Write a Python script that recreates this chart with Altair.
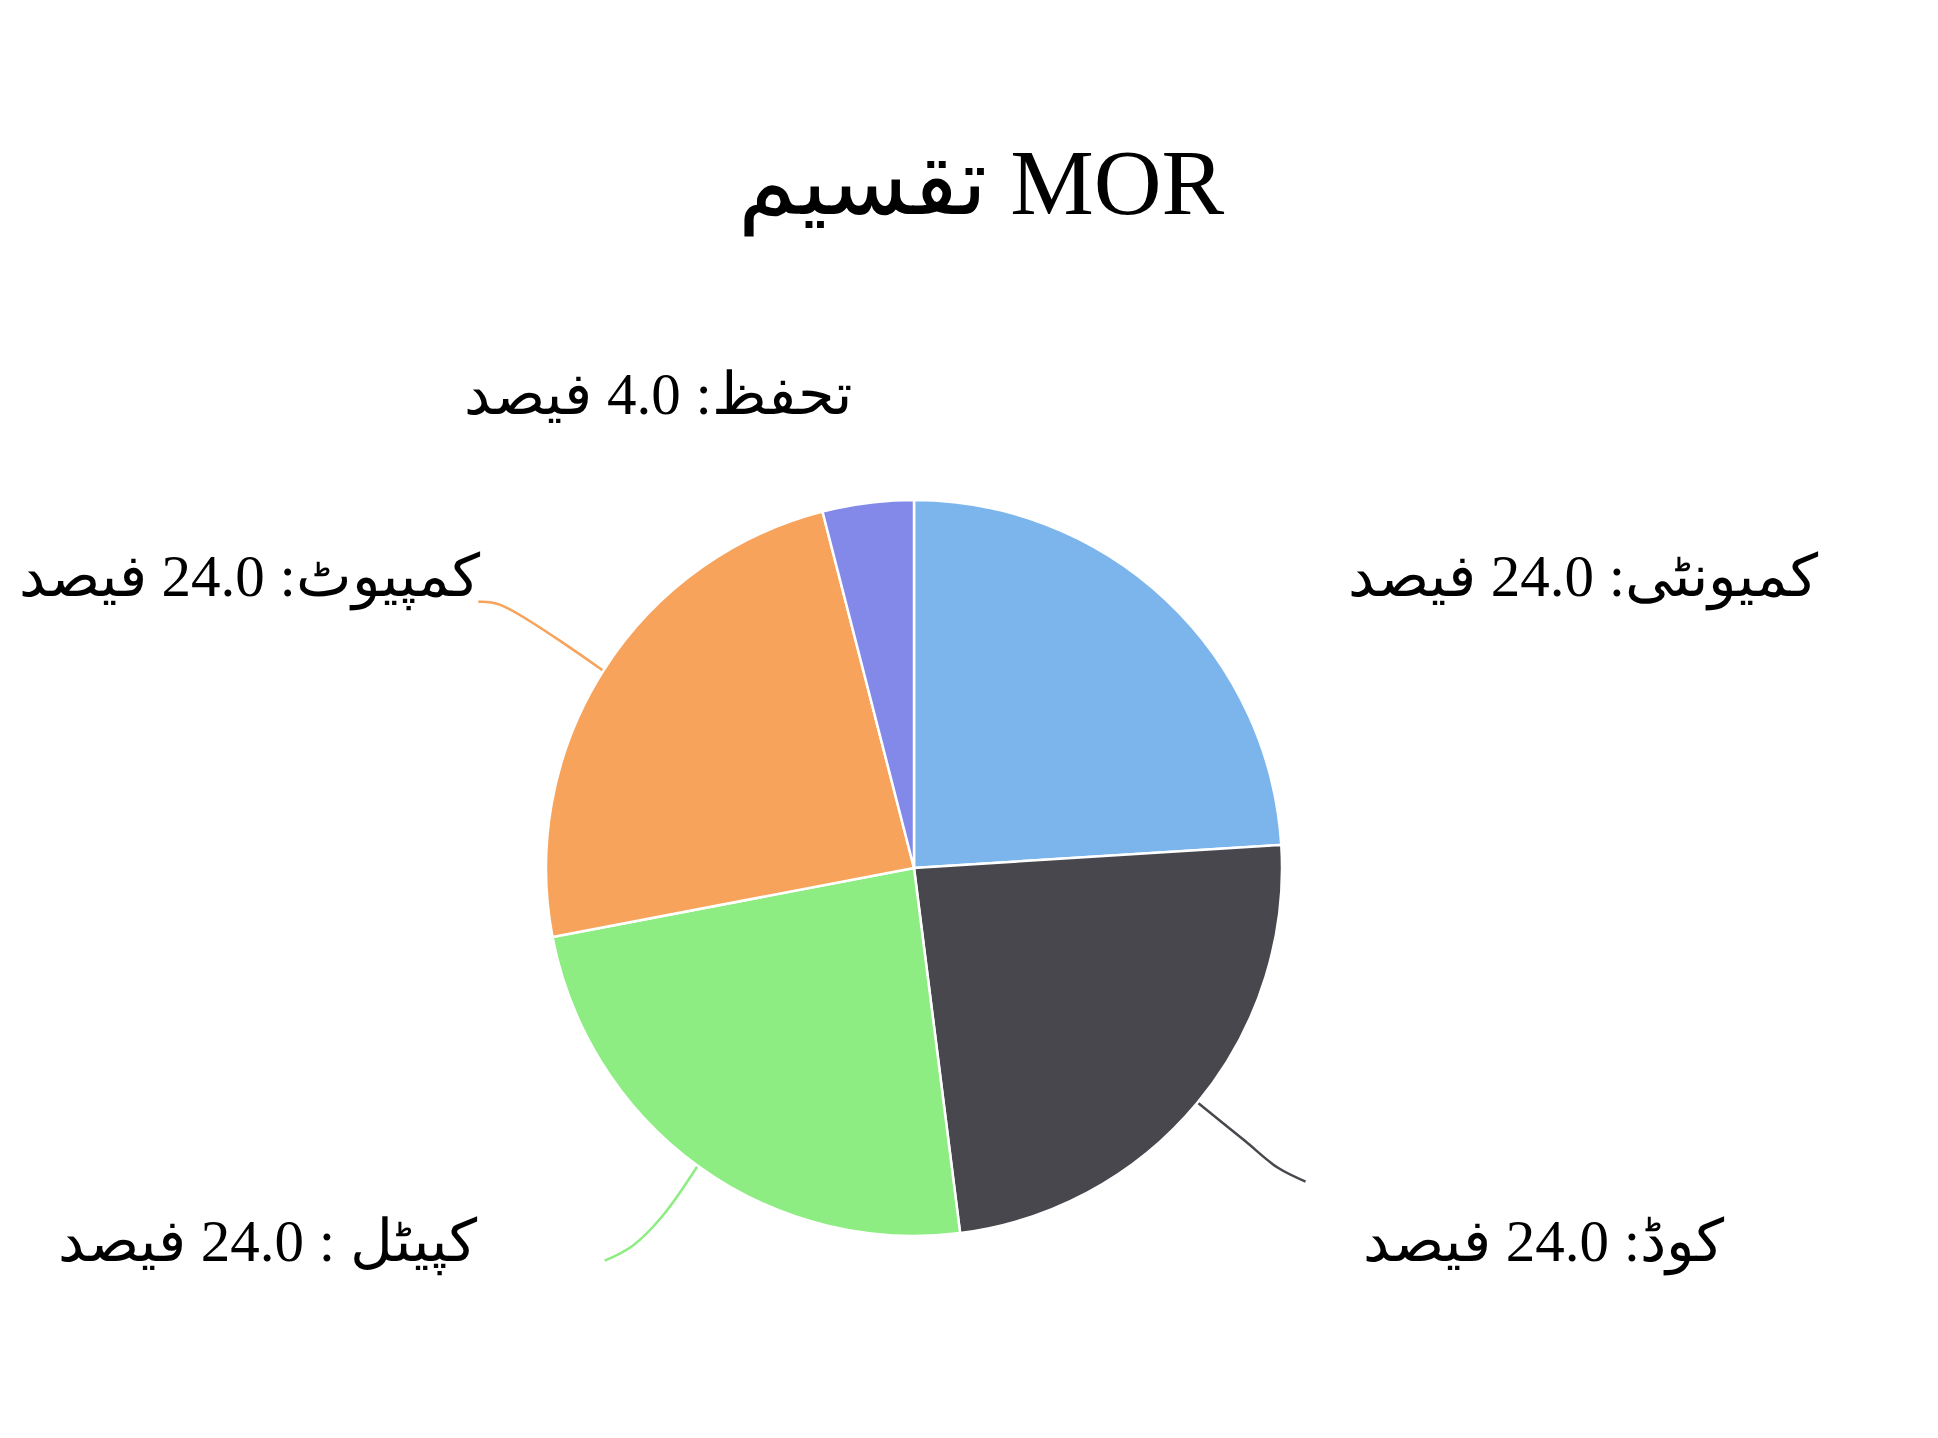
import math
import altair as alt
import pandas as pd

# ---- data ----
categories = ["کمیونٹی", "کوڈ", "کپیٹل", "کمپیوٹ", "تحفظ"]
values = [24.0, 24.0, 24.0, 24.0, 4.0]
separators = [": ", ": ", " : ", ": ", ": "]
unit = "فیصد"
title_text = "تقسیم MOR"

# ---- styles / layout ----
colors = ["#7cb5ec", "#47474d", "#8eed82", "#f7a35c", "#8289e9"]
FONT = "Liberation Serif"
W, H = 1922, 1422
CX, CY, R = 906, 860, 368

# label anchors (x, baseline y, align)
label_layout = [
    (1340, 588, "left"),
    (1355, 1253, "left"),
    (469, 1253, "right"),
    (472, 588, "right"),
    (844, 406, "right"),
]
# connector bends, relative to the slice edge point (None = no connector)
connector_offsets = [
    None,
    [(47, 38), (80, 65), (108, 79)],
    [(-35, 50), (-65, 80), (-93, 95)],
    [(-103, -66), (-125, -69)],
    None,
]

df = pd.DataFrame({"cat": categories, "value": values, "order": list(range(len(categories)))})

color_scale = alt.Scale(domain=categories, range=colors)

pie = alt.Chart(df).mark_arc(outerRadius=R, stroke="white", strokeWidth=2.5).encode(
    theta=alt.Theta("value:Q", stack=True),
    color=alt.Color("cat:N", scale=color_scale, legend=None),
    order=alt.Order("order:Q"),
    x=alt.value(CX),
    y=alt.value(CY),
)

# labels
lab_rows = []
for i, (c, v) in enumerate(zip(categories, values)):
    lx, ly, al = label_layout[i]
    lab_rows.append({"cat": c, "text": f"{c}{separators[i]}{v:.1f} {unit}", "lx": lx, "ly": ly, "al": al})
lab_df = pd.DataFrame(lab_rows)

def label_layer(align):
    return alt.Chart(lab_df[lab_df["al"] == align]).mark_text(
        font=FONT, fontSize=59, align=align, baseline="alphabetic", color="black"
    ).encode(
        x=alt.X("lx:Q", scale=None, axis=None),
        y=alt.Y("ly:Q", scale=None, axis=None),
        text="text:N",
    )

# connectors from slice mid-angle edge
total = sum(values)
con_rows = []
cum = 0.0
for i, (c, v) in enumerate(zip(categories, values)):
    mid = (cum + v / 2) / total * 2 * math.pi
    cum += v
    offs = connector_offsets[i]
    if not offs:
        continue
    sx = CX + R * math.sin(mid)
    sy = CY - R * math.cos(mid)
    con_rows.append({"cat": c, "seq": 0, "px": sx, "py": sy})
    for k, (ox, oy) in enumerate(offs):
        con_rows.append({"cat": c, "seq": k + 1, "px": sx + ox, "py": sy + oy})
con_df = pd.DataFrame(con_rows)

connectors = alt.Chart(con_df).mark_line(strokeWidth=2.5, interpolate="catmull-rom").encode(
    x=alt.X("px:Q", scale=None, axis=None),
    y=alt.Y("py:Q", scale=None, axis=None),
    color=alt.Color("cat:N", scale=color_scale, legend=None),
    detail="cat:N",
    order=alt.Order("seq:Q"),
)

title = alt.Chart(pd.DataFrame({"t": [title_text]})).mark_text(
    font=FONT, fontSize=94, align="center", baseline="alphabetic", color="black"
).encode(
    x=alt.value(973),
    y=alt.value(206),
    text="t:N",
)

chart = alt.layer(
    connectors, pie, label_layer("left"), label_layer("right"), title
).properties(
    width=W, height=H, autosize=alt.AutoSizeParams(type="none"), padding=0
).configure_view(stroke=None)

chart.save("out.html", embed_options={"renderer": "svg", "actions": False})
